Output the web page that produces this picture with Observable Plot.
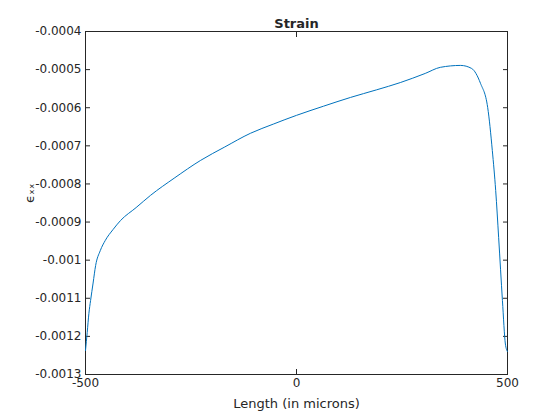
<!DOCTYPE html>
<html>
<head>
<script src="https://cdn.jsdelivr.net/npm/d3@7"></script>
<script src="https://cdn.jsdelivr.net/npm/@observablehq/plot@0.6"></script>
<style>body{margin:0;background:#fff}</style>
</head>
<body>
<div id="vis"></div>
<script>
const lengths = [-500, -496, -492, -488, -482, -476, -465, -453, -435, -417, -380, -346, -290, -227, -170, -109, -55, 0, 64, 128, 190, 246, 305, 341, 389, 415, 436, 453, 464, 472, 479, 488, 495, 500]
const strain = [-0.001237, -0.00119, -0.00114, -0.001106, -0.00106, -0.001014, -0.000975, -0.000948, -0.00092, -0.000896, -0.000862, -0.00083, -0.000785, -0.000738, -0.000703, -0.000667, -0.000643, -0.00062, -0.000596, -0.000573, -0.000553, -0.000534, -0.00051, -0.000494, -0.000489, -0.000497, -0.000536, -0.000599, -0.000712, -0.000817, -0.00094, -0.001106, -0.00122, -0.00124]
const yTicks = [-0.0013, -0.0012, -0.0011, -0.001, -0.0009, -0.0008, -0.0007, -0.0006, -0.0005, -0.0004]
const xTicks = [-500, 0, 500]
const data = lengths.map((x, i) => ({x, y: strain[i]}))

const chart = Plot.plot({
  width: 560,
  height: 420,
  marginLeft: 85,
  marginRight: 53,
  marginTop: 31,
  marginBottom: 46,
  x: {domain: [-500, 500]},
  y: {domain: [-0.0013, -0.0004]},
  style: {fontFamily: "DejaVu Sans", fontSize: "11px", color: "#262626", background: "#fff"},
  marks: [
    Plot.frame({stroke: "#262626"}),
    Plot.axisX({ticks: xTicks, tickSize: -5, tickPadding: 9, tickFormat: d => String(d), fontSize: 12, label: null}),
    Plot.axisX({ticks: xTicks, anchor: "top", tickSize: -5, tickFormat: () => "", label: null}),
    Plot.axisY({ticks: yTicks, tickSize: -5, tickPadding: 9, tickFormat: d => String(+d.toPrecision(2)), fontSize: 12, label: null}),
    Plot.axisY({ticks: yTicks, anchor: "right", tickSize: -5, tickFormat: () => "", label: null}),
    Plot.line(data, {x: "x", y: "y", stroke: "#0072bd", strokeWidth: 1, curve: "monotone-x"}),
    Plot.text(["Strain"], {frameAnchor: "top", dy: -13, fontWeight: "bold", fontSize: 13}),
    Plot.text(["Length (in microns)"], {frameAnchor: "bottom", dy: 33, fontSize: 13}),
    Plot.text(["ϵₓₓ"], {frameAnchor: "left", dx: -56, rotate: -90, fontSize: 13})
  ]
})
d3.select('#vis').append(() => chart)
</script>
</body>
</html>
